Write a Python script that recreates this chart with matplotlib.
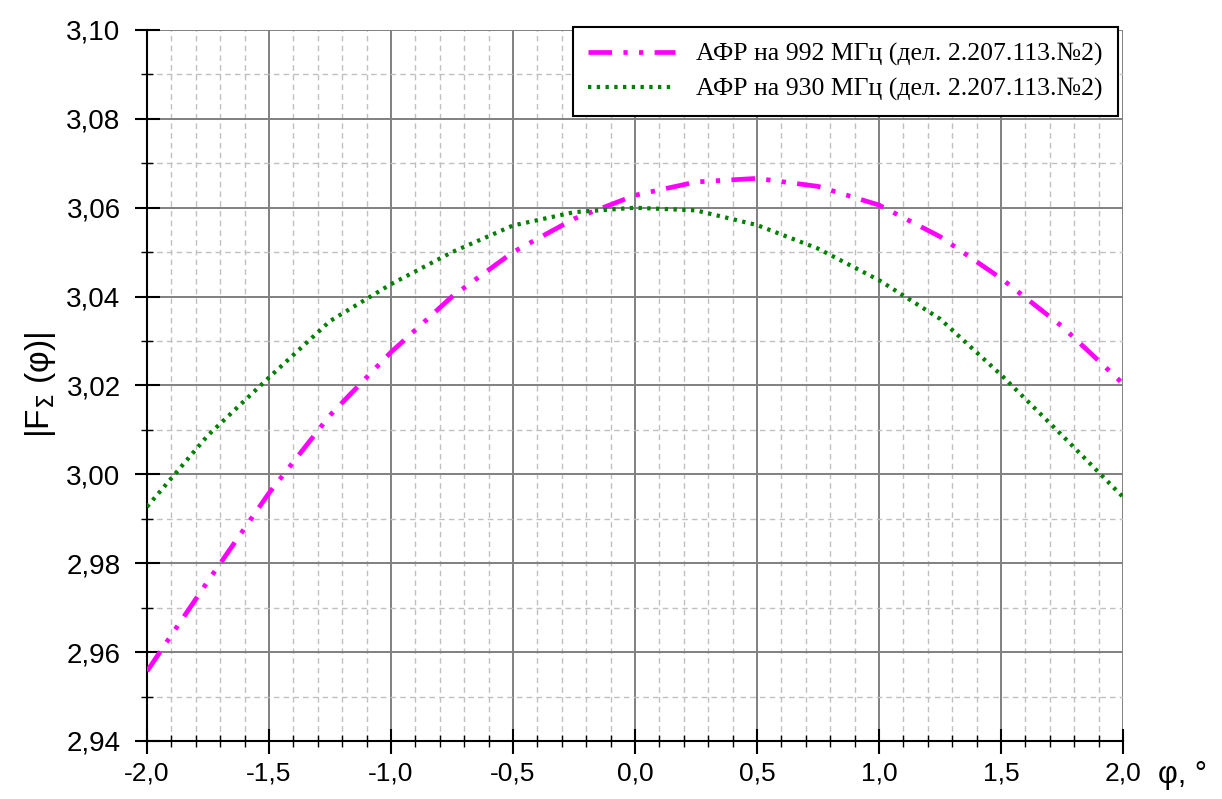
import matplotlib
matplotlib.use('Agg')
import matplotlib.pyplot as plt
from matplotlib.ticker import MultipleLocator

# угол, градусы
phi = [-2.0, -1.75, -1.5, -1.25, -1.0, -0.75, -0.5, -0.25, 0.0,
       0.25, 0.5, 0.75, 1.0, 1.25, 1.5, 1.75, 2.0]
# АФР на 992 МГц
f992 = [2.9557, 2.9760, 2.9958, 3.0133, 3.0275, 3.0400, 3.0500, 3.0575, 3.0628,
        3.0658, 3.0666, 3.0648, 3.0606, 3.0535, 3.0441, 3.0333, 3.0204]
# АФР на 930 МГц
f930 = [2.9927, 3.0088, 3.0218, 3.0345, 3.0428, 3.0500, 3.0560, 3.0590, 3.0600,
        3.0594, 3.0561, 3.0508, 3.0437, 3.0350, 3.0224, 3.0088, 2.9949]

x_ticks = [-2.0, -1.5, -1.0, -0.5, 0.0, 0.5, 1.0, 1.5, 2.0]
y_ticks = [2.94, 2.96, 2.98, 3.00, 3.02, 3.04, 3.06, 3.08, 3.10]

lbl992 = 'АФР на 992 МГц (дел. 2.207.113.№2)'
lbl930 = 'АФР на 930 МГц (дел. 2.207.113.№2)'

sans = ['Liberation Sans', 'DejaVu Sans']

fig = plt.figure(figsize=(12.22, 7.99), dpi=100)
ax = fig.add_axes([0.1203, 0.0726, 0.7987, 0.8899])

ax.plot(phi, f992, color='#ff00ff', lw=3.4, dashes=(5, 2.4, 0.9, 2.4, 0.9, 2.4),
        label=lbl992, zorder=3)
ax.plot(phi, f930, color='#008000', lw=3.0, dashes=(0.8, 1.3),
        label=lbl930, zorder=3)

ax.set_xlim(-2.0, 2.0)
ax.set_ylim(2.94, 3.10)
ax.set_xticks(x_ticks)
ax.set_yticks(y_ticks)
ax.xaxis.set_minor_locator(MultipleLocator(0.1))
ax.yaxis.set_minor_locator(MultipleLocator(0.01))
ax.set_xticklabels([f'{v:.1f}'.replace('.', ',') for v in x_ticks], family=sans, fontsize=19)
ax.set_yticklabels([f'{v:.2f}'.replace('.', ',') for v in y_ticks], family=sans, fontsize=20)

ax.grid(which='major', color='#808080', lw=1.4, ls='-')
ax.grid(which='minor', color='#c0c0c0', lw=1.0, ls=(0, (4, 3)))
ax.set_axisbelow(True)

for s in ['top', 'right']:
    ax.spines[s].set_visible(False)
for s in ['left', 'bottom']:
    ax.spines[s].set_linewidth(1.5)
    ax.spines[s].set_color('black')

ax.tick_params(which='major', direction='inout', length=18, width=1.5, color='black')
ax.tick_params(which='minor', direction='inout', length=9, width=1.0, color='black')
ax.tick_params(axis='y', which='major', pad=10)
ax.tick_params(axis='x', which='major', pad=6)

ax.set_ylabel(r'|F$_{\Sigma}$ (φ)|', fontsize=24, family=sans, labelpad=6)
fig.text(0.968, 0.03, 'φ, °', fontsize=22, family=sans, ha='center', va='center')

leg = ax.legend(loc='upper right', bbox_to_anchor=(0.9148, 0.966), bbox_transform=fig.transFigure,
                prop={'family': 'Liberation Serif', 'size': 18.5}, frameon=True, fancybox=False,
                edgecolor='black', framealpha=1, handlelength=3.4, borderpad=0.6,
                labelspacing=0.45, handletextpad=0.8, borderaxespad=0)
leg.get_frame().set_linewidth(1.5)

fig.savefig('out.png', dpi=100)
